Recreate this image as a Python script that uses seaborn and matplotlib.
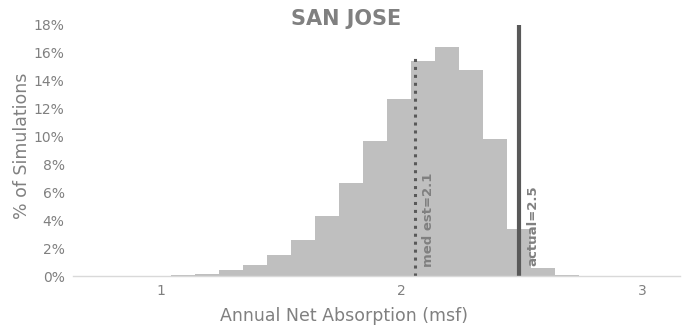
import matplotlib
matplotlib.use("Agg")
import matplotlib.pyplot as plt
import seaborn as sns
from matplotlib.ticker import PercentFormatter

# bin centres (msf) and share of simulations (%)
bin_centers = [1.09, 1.19, 1.29, 1.39, 1.49, 1.59, 1.69, 1.79, 1.89,
               1.99, 2.09, 2.19, 2.29, 2.39, 2.49, 2.59, 2.69]
pct_sims = [0.05, 0.15, 0.4, 0.8, 1.5, 2.6, 4.3, 6.7, 9.7,
            12.7, 15.4, 16.45, 14.8, 9.8, 3.4, 0.6, 0.1]
median_est = 2.056
actual = 2.49
x_ticks = [1, 2, 3]
y_ticks = [0, 2, 4, 6, 8, 10, 12, 14, 16, 18]

sns.set_style("white")
plt.rcParams['font.family'] = ['DejaVu Sans']
grey = '#808080'

fig = plt.figure(figsize=(6.82, 3.33), dpi=100)
ax = fig.add_axes([0.107, 0.171, 0.890, 0.754])

edges = [c - 0.05 for c in bin_centers] + [bin_centers[-1] + 0.05]
sns.histplot(x=bin_centers, weights=pct_sims, bins=edges, color='#bfbfbf',
             alpha=1, edgecolor='none', linewidth=0, ax=ax)

ax.axvline(median_est, ymin=0, ymax=15.9 / 18, color='#595959', lw=2.2, ls=(0, (1, 1.6)))
ax.axvline(actual, ymin=0, ymax=1, color='#595959', lw=3)
ax.text(median_est + 0.03, 0.65, 'med est=2.1', rotation=90, ha='left', va='bottom',
        color=grey, fontsize=9.5, fontweight='bold')
ax.text(actual + 0.03, 0.75, 'actual=2.5', rotation=90, ha='left', va='bottom',
        color=grey, fontsize=9.5, fontweight='bold')

ax.set_xlim(0.634, 3.158)
ax.set_ylim(0, 18)
ax.set_xticks(x_ticks)
ax.set_yticks(y_ticks)
ax.yaxis.set_major_formatter(PercentFormatter(decimals=0))
ax.tick_params(colors=grey, labelsize=10, length=0, pad=6)
ax.set_xlabel('Annual Net Absorption (msf)', color=grey, fontsize=12.5)
ax.xaxis.set_label_coords(0.447, -0.125)
ax.set_ylabel('% of Simulations', color=grey, fontsize=12.5)
ax.yaxis.set_label_coords(-0.069, 0.52)
for s in ['top', 'right', 'left']:
    ax.spines[s].set_visible(False)
ax.spines['bottom'].set_color('#d9d9d9')
ax.spines['bottom'].set_linewidth(1)

fig.text(0.508, 0.943, 'SAN JOSE', ha='center', va='center', color=grey,
         fontsize=15, fontweight='bold')

fig.savefig('out.png', dpi=100)
